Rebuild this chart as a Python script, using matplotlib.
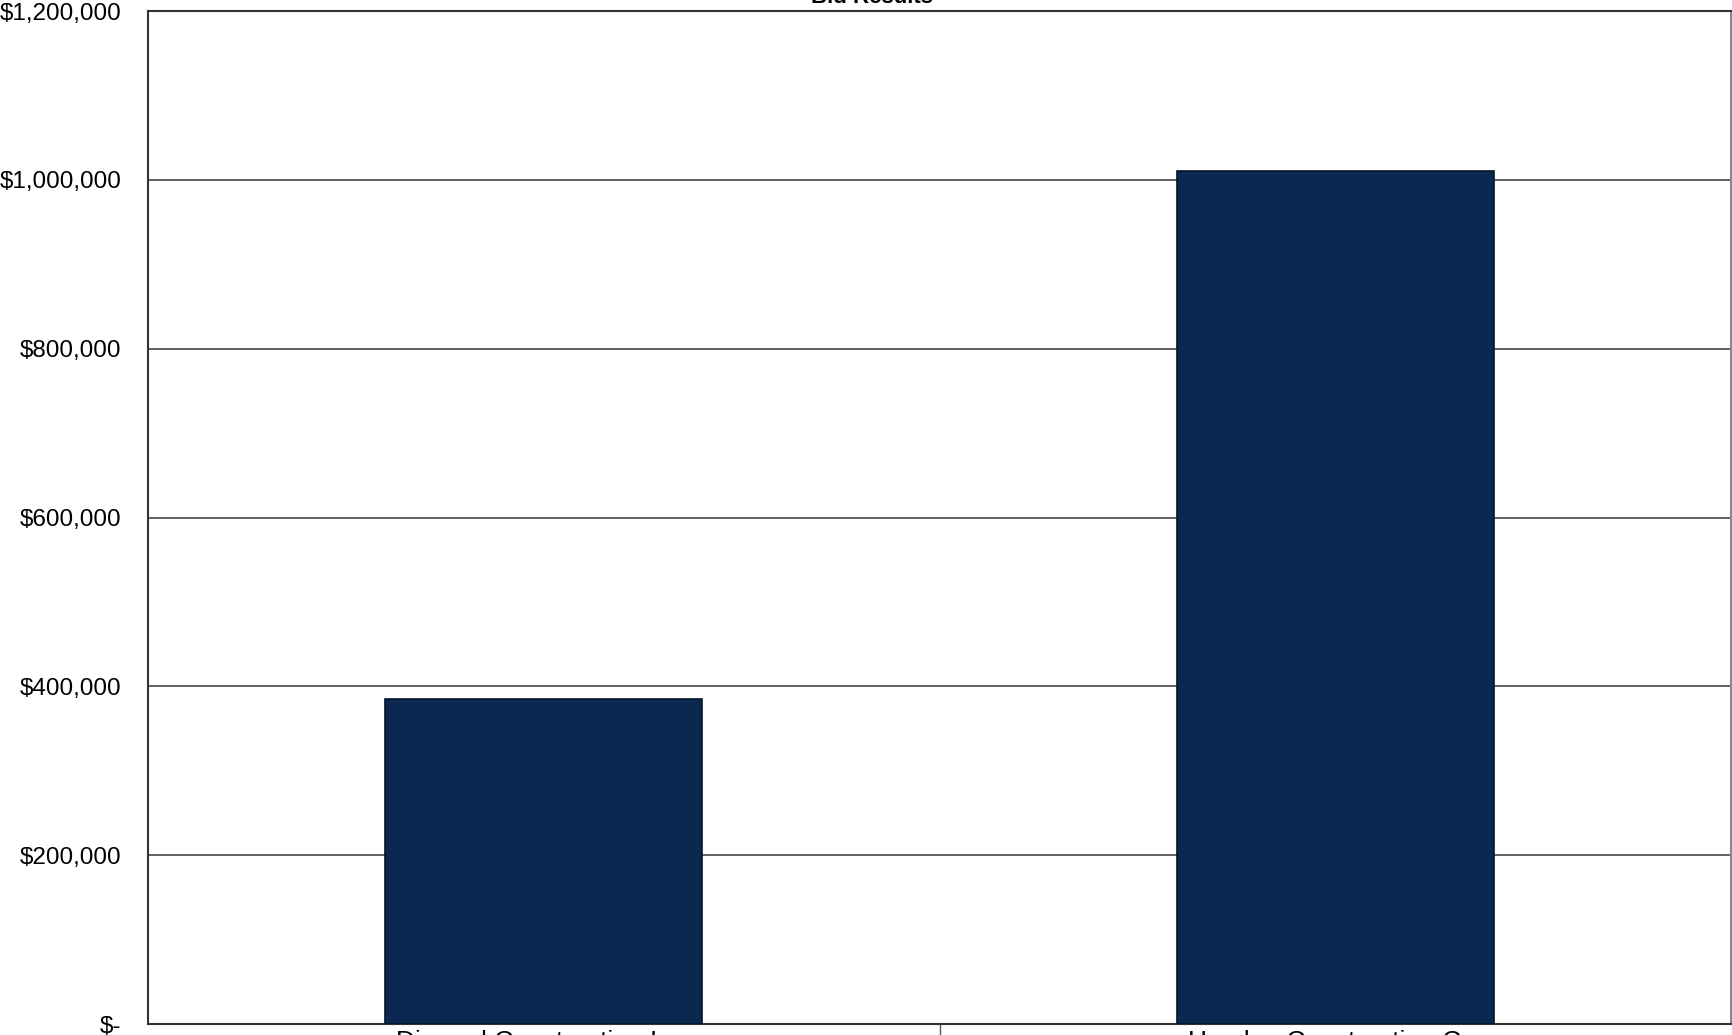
import matplotlib.pyplot as plt
from matplotlib.ticker import FixedLocator

plt.rcParams['font.family'] = ['Liberation Sans', 'DejaVu Sans']

# data
bidders = ['Dimond Construction Inc.', 'Hayden Construction Co.']
bids = [385000, 1010000]
y_ticks = [0, 200000, 400000, 600000, 800000, 1000000, 1200000]
y_labels = ['$-', '$200,000', '$400,000', '$600,000', '$800,000', '$1,000,000', '$1,200,000']

fig = plt.figure(figsize=(17.33, 10.35), dpi=100)
ax = fig.add_axes([0.0854, 0.0106, 0.9135, 0.9787])

x = list(range(len(bidders)))
ax.bar(x, bids, width=0.4, color='#0a2850', edgecolor='#05142a', linewidth=1.2, zorder=3)

ax.set_xlim(-0.5, len(bidders) - 0.5)
ax.set_ylim(0, 1200000)
ax.set_yticks(y_ticks)
ax.set_yticklabels(y_labels, fontsize=17.5)
ax.yaxis.grid(True, color='#555555', linewidth=1.3, zorder=0)
ax.tick_params(axis='y', length=0, pad=19)

# category names below bars, boundary ticks between categories
ax.set_xticks(x)
ax.set_xticklabels(bidders, fontsize=19)
ax.tick_params(axis='x', which='major', length=0, pad=4)
ax.xaxis.set_minor_locator(FixedLocator([0.5]))
ax.tick_params(axis='x', which='minor', length=12, width=1, color='#555555', direction='out')

for s in ['left', 'top', 'bottom', 'right']:
    ax.spines[s].set_color('#333333')
    ax.spines[s].set_linewidth(1.5)
ax.spines['right'].set_color('#888888')

fig.text(872 / 1733, 1 - 3 / 1035, 'Bid Results', fontsize=16, fontweight='bold',
         ha='center', va='baseline')

fig.savefig('out.png', dpi=100)
